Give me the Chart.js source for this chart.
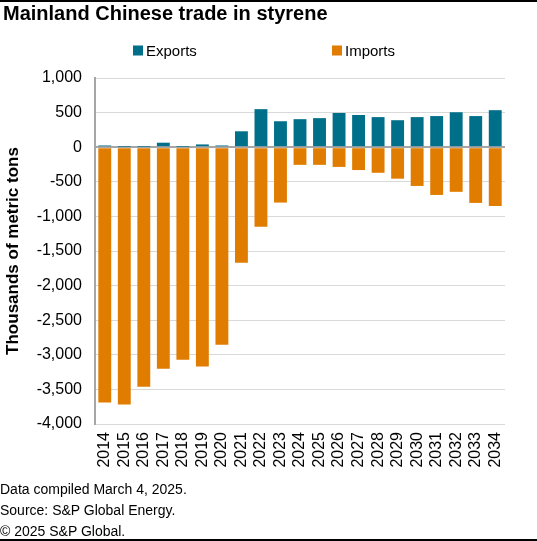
<!DOCTYPE html>
<html>
<head>
<meta charset="utf-8">
<script src="https://cdn.jsdelivr.net/npm/chart.js@4/dist/chart.umd.min.js"></script>
<style>
  html, body { margin: 0; padding: 0; background: #fff; }
  body { width: 537px; height: 541px; position: relative; overflow: hidden; font-family: "Liberation Sans", Arial, sans-serif; color: #000; }
  .rule { position: absolute; left: 0; width: 537px; height: 2px; background: #000; }
  #title { position: absolute; left: 3px; top: 3px; font-size: 20px; line-height: 20px; font-weight: bold; white-space: nowrap; }
  #chartBox { position: absolute; left: 0; top: 0; width: 537px; height: 480px; }
  #notes { position: absolute; left: 0; top: 479px; font-size: 14px; line-height: 21px; white-space: nowrap; }
</style>
</head>
<body>
<div class="rule" style="top:0"></div>
<div id="chartBox"><canvas id="tradeChart"></canvas></div>
<div id="title">Mainland Chinese trade in styrene</div>
<div id="notes">
  <div>Data compiled March 4, 2025.</div>
  <div>Source: S&amp;P Global Energy.</div>
  <div>© 2025 S&amp;P Global.</div>
</div>
<div class="rule" style="top:539px"></div>

<script>
// years on the x axis
const years = ['2014', '2015', '2016', '2017', '2018', '2019', '2020', '2021', '2022', '2023', '2024',
  '2025', '2026', '2027', '2028', '2029', '2030', '2031', '2032', '2033', '2034'];

// thousands of metric tons
const exportsData = [25, 5, 5, 65, 5, 40, 25, 230, 550, 375, 405, 420, 495, 465, 435, 390, 435, 450, 505, 450, 535];
const importsData = [-3690, -3720, -3460, -3200, -3070, -3170, -2855, -1670, -1150, -800, -255, -255, -285, -330,
  -370, -455, -560, -690, -645, -805, -850];

const yTicks = [1000, 500, 0, -500, -1000, -1500, -2000, -2500, -3000, -3500, -4000];

const EXPORT_COLOR = '#006f89';
const IMPORT_COLOR = '#e07d00';
const FONT = 'Liberation Sans';

// legend with wide spacing, drawn from the dataset labels/colours
const spacedLegend = {
  id: 'spacedLegend',
  afterDraw(chart) {
    const ctx = chart.ctx;
    const slots = [133, 332];
    const y = 50.5;
    ctx.save();
    ctx.font = '15px "' + FONT + '"';
    ctx.textBaseline = 'middle';
    ctx.textAlign = 'left';
    chart.data.datasets.forEach((ds, i) => {
      const x = slots[i];
      ctx.fillStyle = ds.backgroundColor;
      ctx.fillRect(x, y - 5, 10, 10);
      ctx.fillStyle = '#000';
      ctx.fillText(ds.label, x + 13, y + 1);
    });
    ctx.restore();
  }
};

new Chart(document.getElementById('tradeChart'), {
  type: 'bar',
  data: {
    labels: years,
    datasets: [
      {
        label: 'Exports',
        data: exportsData,
        backgroundColor: EXPORT_COLOR,
        categoryPercentage: 1,
        barPercentage: 0.66
      },
      {
        label: 'Imports',
        data: importsData,
        backgroundColor: IMPORT_COLOR,
        categoryPercentage: 1,
        barPercentage: 0.66
      }
    ]
  },
  options: {
    responsive: true,
    maintainAspectRatio: false,
    animation: false,
    layout: { padding: { top: 78, right: 32, bottom: 0, left: 0 } },
    plugins: {
      legend: { display: false },
      tooltip: { enabled: false }
    },
    scales: {
      x: {
        stacked: true,
        grid: { display: false, drawTicks: false },
        border: { display: false },
        ticks: {
          color: '#000',
          font: { family: FONT, size: 16 },
          minRotation: 90,
          maxRotation: 90,
          padding: 8,
          autoSkip: false
        },
        afterFit: (scale) => { scale.height = 56; }
      },
      y: {
        stacked: true,
        min: -4000,
        max: 1000,
        afterBuildTicks: (scale) => { scale.ticks = yTicks.map(v => ({ value: v })); },
        grid: {
          drawTicks: false,
          color: (c) => c.tick && c.tick.value === 0 ? '#a6a6a6' : '#d9d9d9',
          lineWidth: (c) => c.tick && c.tick.value === 0 ? 2 : 1
        },
        border: { display: true, color: '#a6a6a6', width: 2 },
        ticks: {
          color: '#000',
          font: { family: FONT, size: 16 },
          padding: 13,
          callback: (v) => Number(v).toLocaleString('en-US')
        },
        title: {
          display: true,
          text: 'Thousands of metric tons',
          color: '#000',
          font: { family: FONT, size: 17, weight: 'bold' },
          padding: { top: 3, bottom: 0 }
        },
        afterFit: (scale) => { scale.width = 95; }
      }
    }
  },
  plugins: [spacedLegend]
});
</script>
</body>
</html>
